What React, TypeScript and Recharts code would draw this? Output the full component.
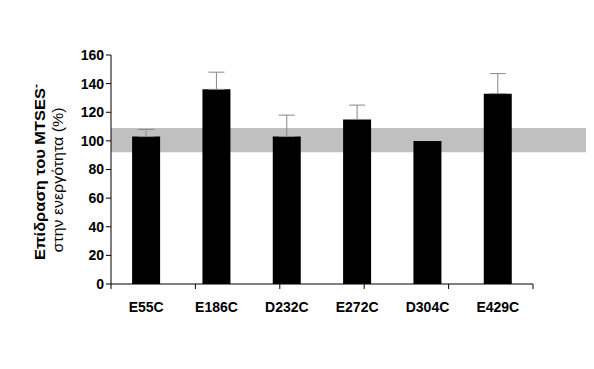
import React from 'react';
import { BarChart, Bar, XAxis, YAxis, ErrorBar, ReferenceArea } from 'recharts';

const categories = ['E55C', 'E186C', 'D232C', 'E272C', 'D304C', 'E429C'];
const values = [103, 136, 103, 115, 100, 133];
const errors: (number | null)[] = [5, 12, 15, 10, null, 14];
const yTicks = [0, 20, 40, 60, 80, 100, 120, 140, 160];
const bandLow = 92;
const bandHigh = 109;
const bandStart = 0;
const bandEnd = 5.79;
const boundaryTicks = [0, 1, 2, 3, 4, 5, 6];

const data = categories.map((name, i) => ({
  name,
  value: values[i],
  err: errors[i] == null ? null : [0, errors[i]],
}));

const FONT = 'Liberation Sans, Arial, sans-serif';

const YLabel = () => {
  const cy1 = 164;
  const cy2 = 172;
  const x1 = 37;
  const x2 = 55;
  return (
    <g>
      <text
        x={x1}
        y={cy1}
        transform={`rotate(-90, ${x1}, ${cy1})`}
        textAnchor="middle"
        fontFamily={FONT}
        fontSize={15}
        fontWeight="bold"
        fill="#000"
        textLength={176}
        lengthAdjust="spacingAndGlyphs"
      >
        Επίδραση του MTSES
        <tspan dy={-6} fontSize={11}>-</tspan>
      </text>
      <text
        x={x2}
        y={cy2}
        transform={`rotate(-90, ${x2}, ${cy2})`}
        textAnchor="middle"
        fontFamily={FONT}
        fontSize={15}
        fill="#000"
        textLength={145}
        lengthAdjust="spacingAndGlyphs"
      >
        στην ενεργότητα (%)
      </text>
    </g>
  );
};

export default function App() {
  return (
    <div style={{ width: 578, height: 353 }}>
      <BarChart
        width={578}
        height={353}
        data={data}
        margin={{ top: 47, right: 53, bottom: 46, left: 43 }}
        barCategoryGap="30%"
      >
        <XAxis
          xAxisId="a"
          type="number"
          domain={[0, 6]}
          ticks={boundaryTicks}
          tickFormatter={() => ''}
          height={1}
          tickSize={5}
          axisLine={{ stroke: '#000' }}
          tickLine={{ stroke: '#000' }}
          allowDataOverflow
        />
        <XAxis
          xAxisId="b"
          dataKey="name"
          height={30}
          axisLine={false}
          tickLine={false}
          tickSize={0}
          tickMargin={17}
          tick={{ fontFamily: FONT, fontSize: 14, fontWeight: 'bold', fill: '#000' }}
          interval={0}
        />
        <YAxis
          domain={[0, 160]}
          ticks={yTicks}
          width={60}
          tickSize={5}
          tickMargin={2}
          axisLine={{ stroke: '#000' }}
          tickLine={{ stroke: '#000' }}
          tick={{ fontFamily: FONT, fontSize: 14, fontWeight: 'bold', fill: '#000' }}
          label={{ content: () => <YLabel /> }}
        />
        <ReferenceArea
          xAxisId="a"
          x1={bandStart}
          x2={bandEnd}
          y1={bandLow}
          y2={bandHigh}
          fill="#c0c0c0"
          fillOpacity={1}
          stroke="none"
          ifOverflow="visible"
        />
        <Bar xAxisId="b" dataKey="value" fill="#000" isAnimationActive={false}>
          <ErrorBar dataKey="err" width={8} stroke="#888" strokeWidth={1} direction="y" />
        </Bar>
      </BarChart>
    </div>
  );
}
